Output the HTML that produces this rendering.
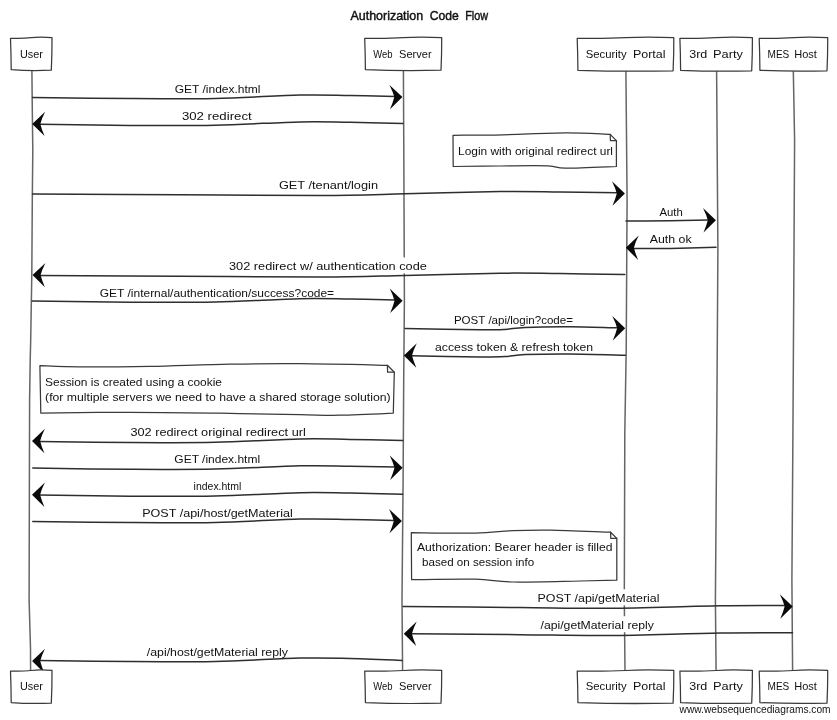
<!DOCTYPE html>
<html lang="en"><head><meta charset="utf-8"><title>Authorization Code Flow</title>
<style>html,body{margin:0;padding:0;background:#fff}svg{display:block;will-change:transform}text{font-family:"Liberation Sans", sans-serif;fill:#111}.l{stroke:#3a3a3a;stroke-width:1.25;fill:none;stroke-linecap:round;stroke-linejoin:round}.b{stroke:#3a3a3a;stroke-width:1.25;fill:#fff;stroke-linejoin:round}.v{stroke:#656565;stroke-width:1.5;fill:none}.m{stroke:#2e2e2e;stroke-width:1.5;fill:none;stroke-linecap:round}.a{fill:#0a0a0a;stroke:none}</style></head><body>
<svg width="837" height="720" viewBox="0 0 837 720">
<rect width="837" height="720" fill="#fff"/>
<g><text x="350.5" y="19.6" font-size="13.5" font-weight="normal" textLength="72.7" lengthAdjust="spacingAndGlyphs" stroke="#111" stroke-width="0.45">Authorization</text><text x="429.8" y="19.6" font-size="13.5" font-weight="normal" textLength="29.1" lengthAdjust="spacingAndGlyphs" stroke="#111" stroke-width="0.45">Code</text><text x="465.2" y="19.6" font-size="13.5" font-weight="normal" textLength="22.9" lengthAdjust="spacingAndGlyphs" stroke="#111" stroke-width="0.45">Flow</text></g>
<path class="v" d="M31.9 70.0 L32.3 110.0 L32.8 150.0 L32.3 200.0 L31.8 275.0 L30.7 340.0 L30.2 360.0 L29.6 400.0 L29.3 520.0 L29.1 600.0 L30.5 648.0 L30.6 671.0"/>
<path class="v" d="M403.4 70.0 L403.8 150.0 L404.4 300.0 L403.7 380.0 L403.1 480.0 L402.0 600.0 L402.6 671.0"/>
<path class="v" d="M625.9 70.0 L627.1 200.0 L626.2 350.0 L624.8 433.0 L624.3 600.0 L625.0 671.0"/>
<path class="v" d="M716.6 70.0 L717.9 250.0 L716.8 420.0 L715.4 600.0 L716.1 671.0"/>
<path class="v" d="M793.3 70.0 L794.6 140.0 L794.0 250.0 L793.0 420.0 L791.9 580.0 L792.6 671.0"/>
<rect x="172.7" y="79.6" width="89.8" height="16" fill="#fff"/>
<path class="m" d="M32.5 97.4 C48.8 97.6 99.6 98.4 130.0 98.6 C160.4 98.8 186.7 99.0 215.0 98.4 C243.3 97.8 277.5 95.6 300.0 95.1 C322.5 94.6 334.1 95.3 350.0 95.5 C365.9 95.7 387.8 96.3 395.4 96.4"/>
<path class="a" d="M402.4 97.1 L389.5 84.9 Q393.1 92.1 394.3 97.1 Q393.1 102.1 390.0 109.3 Z"/>
<text x="174.7" y="92.6" font-size="11" font-weight="normal" textLength="85.8" lengthAdjust="spacingAndGlyphs">GET /index.html</text>
<rect x="179.9" y="106.7" width="73.8" height="16" fill="#fff"/>
<path class="m" d="M403.0 123.4 C394.2 123.2 367.2 122.6 350.0 122.3 C332.8 122.1 322.5 121.4 300.0 121.9 C277.5 122.4 243.3 124.6 215.0 125.2 C186.7 125.8 159.3 125.6 130.0 125.4 C100.7 125.2 54.3 124.5 39.2 124.3"/>
<path class="a" d="M32.2 123.9 L45.1 111.7 Q41.5 118.9 40.3 123.9 Q41.5 128.9 44.6 136.1 Z"/>
<text x="181.9" y="119.7" font-size="11" font-weight="normal" textLength="69.8" lengthAdjust="spacingAndGlyphs">302 redirect</text>
<rect x="276.9" y="175.9" width="103.1" height="16" fill="#fff"/>
<path class="m" d="M32.5 194.0 C57.1 194.1 132.1 194.5 180.0 194.7 C227.9 194.9 282.5 195.7 320.0 195.5 C357.5 195.3 375.0 194.5 405.0 193.8 C435.0 193.2 474.2 191.9 500.0 191.6 C525.8 191.3 540.4 191.8 560.0 192.0 C579.6 192.2 608.2 192.7 617.9 192.8"/>
<path class="a" d="M624.9 193.5 L612.0 181.3 Q615.6 188.5 616.8 193.5 Q615.6 198.5 612.5 205.7 Z"/>
<text x="278.9" y="188.9" font-size="11" font-weight="normal" textLength="99.1" lengthAdjust="spacingAndGlyphs">GET /tenant/login</text>
<rect x="657.5" y="203.4" width="27.3" height="16" fill="#fff"/>
<path class="m" d="M626.0 220.9 C633.3 220.9 656.2 221.0 670.0 220.8 C683.8 220.6 702.4 220.0 708.9 219.9"/>
<path class="a" d="M715.9 220.2 L703.0 208.0 Q706.6 215.2 707.8 220.2 Q706.6 225.2 703.5 232.4 Z"/>
<text x="659.5" y="216.4" font-size="11" font-weight="normal" textLength="23.3" lengthAdjust="spacingAndGlyphs">Auth</text>
<rect x="647.7" y="230.3" width="45.9" height="16" fill="#fff"/>
<path class="m" d="M716.0 247.3 C708.3 247.5 683.9 248.2 670.0 248.4 C656.1 248.6 639.0 248.5 632.8 248.5"/>
<path class="a" d="M625.8 247.8 L638.7 235.6 Q635.1 242.8 633.9 247.8 Q635.1 252.8 638.2 260.0 Z"/>
<text x="649.7" y="243.3" font-size="11" font-weight="normal" textLength="41.9" lengthAdjust="spacingAndGlyphs">Auth ok</text>
<rect x="227.0" y="257.4" width="201.9" height="16" fill="#fff"/>
<path class="m" d="M624.8 274.5 C614.0 274.3 580.8 273.8 560.0 273.6 C539.2 273.4 525.8 272.9 500.0 273.2 C474.2 273.5 435.0 274.8 405.0 275.4 C375.0 276.1 357.5 277.0 320.0 277.1 C282.5 277.2 226.8 276.5 180.0 276.3 C133.2 276.1 62.9 275.7 39.5 275.6"/>
<path class="a" d="M32.5 275.1 L45.4 262.9 Q41.8 270.1 40.6 275.1 Q41.8 280.1 44.9 287.3 Z"/>
<text x="229.0" y="270.4" font-size="11" font-weight="normal" textLength="197.9" lengthAdjust="spacingAndGlyphs">302 redirect w/ authentication code</text>
<rect x="97.8" y="284.2" width="238.3" height="16" fill="#fff"/>
<path class="m" d="M32.2 301.0 C48.5 301.2 99.5 302.0 130.0 302.2 C160.5 302.4 186.7 302.6 215.0 302.0 C243.3 301.4 277.5 299.2 300.0 298.7 C322.5 298.2 334.1 298.9 350.0 299.1 C365.9 299.3 388.0 299.9 395.6 300.0"/>
<path class="a" d="M402.6 300.7 L389.7 288.5 Q393.3 295.7 394.5 300.7 Q393.3 305.7 390.2 312.9 Z"/>
<text x="99.8" y="297.2" font-size="11" font-weight="normal" textLength="234.3" lengthAdjust="spacingAndGlyphs">GET /internal/authentication/success?code=</text>
<rect x="451.9" y="310.9" width="123.1" height="16" fill="#fff"/>
<path class="m" d="M405.0 328.5 C417.5 328.7 463.3 329.7 480.0 329.8 C496.7 329.9 497.5 329.8 505.0 329.4 C512.5 329.0 514.2 327.8 525.0 327.4 C535.8 327.0 554.5 326.7 570.0 326.8 C585.5 326.9 610.2 327.7 618.2 327.8"/>
<path class="a" d="M625.2 328.3 L612.3 316.1 Q615.9 323.3 617.1 328.3 Q615.9 333.3 612.8 340.5 Z"/>
<text x="453.9" y="323.9" font-size="11" font-weight="normal" textLength="119.1" lengthAdjust="spacingAndGlyphs">POST /api/login?code=</text>
<rect x="433.0" y="338.0" width="162.1" height="16" fill="#fff"/>
<path class="m" d="M625.4 355.2 C616.2 355.0 586.7 354.1 570.0 354.0 C553.3 353.9 535.8 354.2 525.0 354.6 C514.2 355.0 512.5 356.2 505.0 356.6 C497.5 357.0 495.7 357.1 480.0 357.0 C464.3 356.9 422.4 356.0 410.9 355.8"/>
<path class="a" d="M403.9 355.5 L416.8 343.3 Q413.2 350.5 412.0 355.5 Q413.2 360.5 416.3 367.7 Z"/>
<text x="435.0" y="351.0" font-size="11" font-weight="normal" textLength="158.1" lengthAdjust="spacingAndGlyphs">access token &amp; refresh token</text>
<rect x="128.4" y="422.8" width="179.4" height="16" fill="#fff"/>
<path class="m" d="M402.8 440.5 C394.0 440.3 367.1 439.6 350.0 439.4 C332.9 439.2 322.5 438.5 300.0 439.0 C277.5 439.5 243.3 441.7 215.0 442.3 C186.7 442.9 159.3 442.7 130.0 442.5 C100.7 442.3 54.2 441.6 39.0 441.4"/>
<path class="a" d="M32.0 441.0 L44.9 428.8 Q41.3 436.0 40.1 441.0 Q41.3 446.0 44.4 453.2 Z"/>
<text x="130.4" y="435.8" font-size="11" font-weight="normal" textLength="175.4" lengthAdjust="spacingAndGlyphs">302 redirect original redirect url</text>
<rect x="172.3" y="449.9" width="89.8" height="16" fill="#fff"/>
<path class="m" d="M32.8 468.1 C49.0 468.3 99.6 469.1 130.0 469.3 C160.4 469.5 186.7 469.7 215.0 469.1 C243.3 468.5 277.5 466.3 300.0 465.8 C322.5 465.3 334.1 466.0 350.0 466.2 C365.9 466.4 388.0 467.0 395.6 467.1"/>
<path class="a" d="M402.6 467.8 L389.7 455.6 Q393.3 462.8 394.5 467.8 Q393.3 472.8 390.2 480.0 Z"/>
<text x="174.3" y="462.9" font-size="11" font-weight="normal" textLength="85.8" lengthAdjust="spacingAndGlyphs">GET /index.html</text>
<rect x="191.6" y="476.5" width="51.7" height="16" fill="#fff"/>
<path class="m" d="M402.6 494.2 C393.8 494.0 367.1 493.3 350.0 493.1 C332.9 492.9 322.5 492.2 300.0 492.7 C277.5 493.2 243.3 495.4 215.0 496.0 C186.7 496.6 159.3 496.4 130.0 496.2 C100.7 496.0 54.2 495.3 39.0 495.1"/>
<path class="a" d="M32.0 494.7 L44.9 482.5 Q41.3 489.7 40.1 494.7 Q41.3 499.7 44.4 506.9 Z"/>
<text x="193.6" y="489.5" font-size="11" font-weight="normal" textLength="47.7" lengthAdjust="spacingAndGlyphs">index.html</text>
<rect x="140.2" y="504.3" width="154.6" height="16" fill="#fff"/>
<path class="m" d="M32.8 521.4 C49.0 521.6 99.6 522.4 130.0 522.6 C160.4 522.8 186.7 523.0 215.0 522.4 C243.3 521.8 277.5 519.6 300.0 519.1 C322.5 518.6 334.2 519.3 350.0 519.5 C365.8 519.7 387.4 520.3 394.9 520.4"/>
<path class="a" d="M401.9 521.1 L389.0 508.9 Q392.6 516.1 393.8 521.1 Q392.6 526.1 389.5 533.3 Z"/>
<text x="142.2" y="517.3" font-size="11" font-weight="normal" textLength="150.6" lengthAdjust="spacingAndGlyphs">POST /api/host/getMaterial</text>
<rect x="535.5" y="589.3" width="126.0" height="16" fill="#fff"/>
<path class="m" d="M403.0 606.5 C422.5 606.7 485.5 607.2 520.0 607.5 C554.5 607.8 576.7 608.6 610.0 608.3 C643.3 608.0 690.7 606.2 720.0 605.8 C749.3 605.4 774.8 605.6 785.7 605.6"/>
<path class="a" d="M792.7 606.5 L779.8 594.3 Q783.4 601.5 784.6 606.5 Q783.4 611.5 780.3 618.7 Z"/>
<text x="537.5" y="602.3" font-size="11" font-weight="normal" textLength="122.0" lengthAdjust="spacingAndGlyphs">POST /api/getMaterial</text>
<rect x="538.5" y="616.2" width="117.4" height="16" fill="#fff"/>
<path class="m" d="M792.5 632.8 C780.4 632.8 750.4 632.6 720.0 633.0 C689.6 633.4 643.3 635.2 610.0 635.5 C576.7 635.8 553.2 635.0 520.0 634.7 C486.8 634.4 429.0 633.9 410.8 633.8"/>
<path class="a" d="M403.8 633.7 L416.7 621.5 Q413.1 628.7 411.9 633.7 Q413.1 638.7 416.2 645.9 Z"/>
<text x="540.5" y="629.2" font-size="11" font-weight="normal" textLength="113.4" lengthAdjust="spacingAndGlyphs">/api/getMaterial reply</text>
<rect x="144.8" y="642.7" width="145.2" height="16" fill="#fff"/>
<path class="m" d="M402.0 660.5 C393.3 660.1 367.0 658.9 350.0 658.5 C333.0 658.1 322.5 657.6 300.0 658.1 C277.5 658.6 243.3 660.8 215.0 661.4 C186.7 662.0 159.3 661.8 130.0 661.6 C100.7 661.4 54.2 660.7 39.1 660.5"/>
<path class="a" d="M32.1 661.0 L45.0 648.8 Q41.4 656.0 40.2 661.0 Q41.4 666.0 44.5 673.2 Z"/>
<text x="146.8" y="655.7" font-size="11" font-weight="normal" textLength="141.2" lengthAdjust="spacingAndGlyphs">/api/host/getMaterial reply</text>
<path class="b" d="M453.0 135.3 C461.3 135.2 484.0 135.2 502.7 134.8 C521.4 134.4 547.5 133.0 565.4 132.9 C583.3 132.8 602.7 134.2 610.2 134.4 L616.4 140.6 L616.4 166.5 C607.9 166.8 576.8 168.3 565.4 168.2 C554.0 168.1 558.8 166.3 547.9 165.9 C537.0 165.5 515.8 165.9 500.0 166.0 C484.2 166.1 461.0 166.4 453.2 166.5 L453.0 135.3Z"/>
<path class="l" d="M610.2 134.4 L610.4 140.6 L616.4 140.6"/>
<text x="458.0" y="154.7" font-size="11" font-weight="normal" textLength="155.0" lengthAdjust="spacingAndGlyphs">Login with original redirect url</text>
<path class="b" d="M39.9 365.7 C46.6 365.9 61.7 366.8 80.0 366.9 C98.3 367.0 125.0 366.8 150.0 366.3 C175.0 365.8 205.0 364.5 230.0 364.1 C255.0 363.7 273.8 363.5 300.0 363.7 C326.2 363.9 372.8 365.0 387.4 365.3 L394.3 372.2 L393.3 413.1 C384.4 413.5 355.6 414.9 340.0 415.2 C324.4 415.5 320.0 415.0 300.0 414.7 C280.0 414.4 248.3 413.6 220.0 413.2 C191.7 412.8 159.9 412.3 130.0 412.3 C100.1 412.3 55.7 413.0 40.8 413.1 L39.9 365.7Z"/>
<path class="l" d="M387.4 365.3 L387.6 372.2 L394.3 372.2"/>
<text x="45.1" y="385.8" font-size="11" font-weight="normal" textLength="176.9" lengthAdjust="spacingAndGlyphs">Session is created using a cookie</text>
<text x="45.1" y="400.6" font-size="11" font-weight="normal" textLength="345.5" lengthAdjust="spacingAndGlyphs">(for multiple servers we need to have a shared storage solution)</text>
<path class="b" d="M411.3 532.6 C422.0 532.7 458.4 533.4 475.3 533.1 C492.2 532.8 500.4 531.2 512.9 530.7 C525.4 530.2 534.2 530.0 550.5 530.2 C566.8 530.5 600.6 531.9 610.6 532.2 L616.8 538.4 L616.8 580.2 C610.7 580.3 597.3 580.7 580.0 581.0 C562.7 581.3 530.4 582.3 512.9 582.0 C495.4 581.7 492.2 579.6 475.3 579.2 C458.4 578.8 422.2 579.6 411.6 579.7 L411.3 532.6Z"/>
<path class="l" d="M610.6 532.2 L610.8 538.4 L616.8 538.4"/>
<text x="417.0" y="551.4" font-size="11" font-weight="normal" textLength="195.5" lengthAdjust="spacingAndGlyphs">Authorization: Bearer header is filled</text>
<text x="422.0" y="566.4" font-size="11" font-weight="normal" textLength="112.2" lengthAdjust="spacingAndGlyphs">based on session info</text>
<path class="b" d="M10.5 38.3 Q22.9 38.7 31.2 37.7 T52.0 37.6 Q52.1 53.9 51.3 70.2 Q31.2 71.2 11.2 69.7 Q11.1 53.9 10.5 38.3Z"/>
<g><text x="20.0" y="57.9" font-size="11.5" font-weight="normal" textLength="23.0" lengthAdjust="spacingAndGlyphs">User</text></g>
<path class="b" d="M364.7 38.3 Q387.8 38.7 403.2 37.7 T441.7 37.6 Q441.8 53.9 441.0 70.2 Q403.2 71.2 365.4 69.7 Q365.3 53.9 364.7 38.3Z"/>
<g><text x="373.3" y="57.9" font-size="11.5" font-weight="normal" textLength="19.3" lengthAdjust="spacingAndGlyphs">Web</text><text x="399.0" y="57.9" font-size="11.5" font-weight="normal" textLength="32.6" lengthAdjust="spacingAndGlyphs">Server</text></g>
<path class="b" d="M577.2 38.3 Q606.2 38.7 625.5 37.7 T673.8 37.6 Q673.9 54.2 673.1 70.8 Q625.5 71.8 577.9 70.3 Q577.8 54.2 577.2 38.3Z"/>
<g><text x="585.7" y="57.9" font-size="11.5" font-weight="normal" textLength="40.9" lengthAdjust="spacingAndGlyphs">Security</text><text x="632.9" y="57.9" font-size="11.5" font-weight="normal" textLength="32.6" lengthAdjust="spacingAndGlyphs">Portal</text></g>
<path class="b" d="M679.9 38.3 Q701.6 38.7 716.1 37.7 T752.4 37.6 Q752.5 54.2 751.7 70.8 Q716.1 71.8 680.6 70.3 Q680.5 54.2 679.9 38.3Z"/>
<g><text x="689.2" y="57.9" font-size="11.5" font-weight="normal" textLength="18.1" lengthAdjust="spacingAndGlyphs">3rd</text><text x="713.0" y="57.9" font-size="11.5" font-weight="normal" textLength="29.9" lengthAdjust="spacingAndGlyphs">Party</text></g>
<path class="b" d="M759.2 38.3 Q779.8 38.7 793.5 37.7 T827.7 37.6 Q827.8 54.2 827.0 70.8 Q793.5 71.8 759.9 70.3 Q759.8 54.2 759.2 38.3Z"/>
<g><text x="767.5" y="57.9" font-size="11.5" font-weight="normal" textLength="21.8" lengthAdjust="spacingAndGlyphs">MES</text><text x="794.2" y="57.9" font-size="11.5" font-weight="normal" textLength="22.7" lengthAdjust="spacingAndGlyphs">Host</text></g>
<path class="b" d="M10.5 671.1 Q22.9 671.5 31.2 670.5 T52.0 670.4 Q52.1 686.8 51.3 703.1 Q31.2 704.1 11.2 702.6 Q11.1 686.8 10.5 671.1Z"/>
<g><text x="20.0" y="690.4" font-size="11.5" font-weight="normal" textLength="23.0" lengthAdjust="spacingAndGlyphs">User</text></g>
<path class="b" d="M364.7 671.1 Q387.8 671.5 403.2 670.5 T441.7 670.4 Q441.8 686.8 441.0 703.1 Q403.2 704.1 365.4 702.6 Q365.3 686.8 364.7 671.1Z"/>
<g><text x="373.3" y="690.4" font-size="11.5" font-weight="normal" textLength="19.3" lengthAdjust="spacingAndGlyphs">Web</text><text x="399.0" y="690.4" font-size="11.5" font-weight="normal" textLength="32.6" lengthAdjust="spacingAndGlyphs">Server</text></g>
<path class="b" d="M577.2 671.1 Q606.2 671.5 625.5 670.5 T673.8 670.4 Q673.9 686.8 673.1 703.1 Q625.5 704.1 577.9 702.6 Q577.8 686.8 577.2 671.1Z"/>
<g><text x="585.7" y="690.4" font-size="11.5" font-weight="normal" textLength="40.9" lengthAdjust="spacingAndGlyphs">Security</text><text x="632.9" y="690.4" font-size="11.5" font-weight="normal" textLength="32.6" lengthAdjust="spacingAndGlyphs">Portal</text></g>
<path class="b" d="M679.9 671.1 Q701.6 671.5 716.1 670.5 T752.4 670.4 Q752.5 686.8 751.7 703.1 Q716.1 704.1 680.6 702.6 Q680.5 686.8 679.9 671.1Z"/>
<g><text x="689.2" y="690.4" font-size="11.5" font-weight="normal" textLength="18.1" lengthAdjust="spacingAndGlyphs">3rd</text><text x="713.0" y="690.4" font-size="11.5" font-weight="normal" textLength="29.9" lengthAdjust="spacingAndGlyphs">Party</text></g>
<path class="b" d="M759.2 671.1 Q779.8 671.5 793.5 670.5 T827.7 670.4 Q827.8 686.8 827.0 703.1 Q793.5 704.1 759.9 702.6 Q759.8 686.8 759.2 671.1Z"/>
<g><text x="767.5" y="690.4" font-size="11.5" font-weight="normal" textLength="21.8" lengthAdjust="spacingAndGlyphs">MES</text><text x="794.2" y="690.4" font-size="11.5" font-weight="normal" textLength="22.7" lengthAdjust="spacingAndGlyphs">Host</text></g>
<text x="679.6" y="713.3" font-size="11.6" font-weight="normal" textLength="151.0" lengthAdjust="spacingAndGlyphs">www.websequencediagrams.com</text>
</svg></body></html>
